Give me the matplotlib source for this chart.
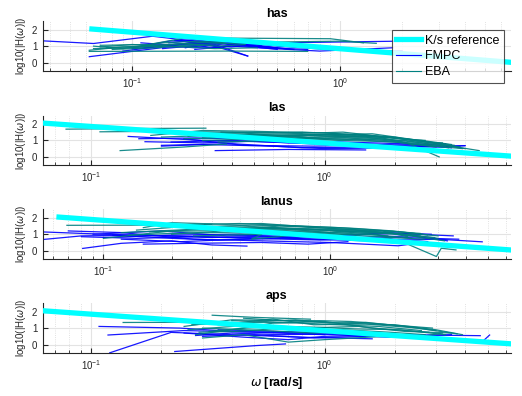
import matplotlib
matplotlib.use("Agg")
import matplotlib.pyplot as plt
from matplotlib.ticker import LogLocator, NullFormatter

plt.rcParams['font.family'] = ['Liberation Sans', 'DejaVu Sans']
plt.rcParams['mathtext.default'] = 'regular'

# reference K/s slope, same for every run
ref_w = [0.062, 7.0]
ref_h = [2.05, 0.0]

# each entry is one experiment: (omega, log10|H|) points
has_fmpc = [
    [(0.037, 1.32), (0.065, 1.16), (0.125, 1.6), (0.2, 1.3), (0.5, 1.2), (1.0, 1.25), (1.9, 1.3)],
    [(0.062, 0.36), (0.146, 0.94), (0.25, 1.1), (0.36, 0.4)],
    [(0.1, 0.9), (0.15, 1.3), (0.2, 1.4), (0.3, 1.1), (0.5, 0.8)],
    [(0.09, 0.7), (0.14, 1.0), (0.22, 1.2), (0.36, 0.4)],
    [(0.12, 1.1), (0.2, 0.9), (0.3, 1.2), (0.45, 0.9), (0.7, 0.8)],
    [(0.15, 1.2), (0.25, 1.5), (0.35, 1.3), (0.5, 1.0), (1.0, 0.75), (2.0, 0.7)],
    [(0.1, 0.85), (0.18, 1.1), (0.28, 1.35), (0.4, 1.0), (0.6, 0.8)],
    [(0.2, 0.8), (0.3, 1.0), (0.4, 0.9), (0.8, 0.7), (1.8, 0.9)],
    [(0.13, 1.0), (0.2, 1.2), (0.26, 0.95), (0.35, 1.15), (0.5, 0.9)],
    [(0.11, 1.2), (0.16, 1.05), (0.21, 1.3), (0.27, 1.15), (0.33, 1.25), (0.42, 1.05)],
    [(0.14, 0.85), (0.19, 1.0), (0.24, 0.9), (0.31, 1.05), (0.45, 0.95), (0.55, 0.85)],
    [(0.16, 1.35), (0.22, 1.15), (0.29, 1.2), (0.38, 1.1), (0.48, 1.15)],
    [(0.12, 0.95), (0.17, 1.15), (0.23, 1.05), (0.3, 0.95), (0.4, 1.1), (0.6, 1.0)],
    [(0.18, 0.9), (0.25, 1.25), (0.32, 1.0), (0.41, 1.2), (0.52, 1.05)],
]
has_eba = [
    [(0.062, 0.68), (0.3, 0.7), (0.7, 0.68)],
    [(0.065, 0.85), (0.1, 0.9), (0.2, 1.2), (0.3, 1.3)],
    [(0.07, 1.05), (0.12, 1.1), (0.18, 1.5), (0.9, 1.45), (1.3, 1.2)],
    [(0.062, 0.75), (0.09, 0.95), (0.15, 1.0), (0.25, 0.85), (0.4, 0.9)],
    [(0.08, 0.8), (0.13, 0.9), (0.2, 1.1), (0.5, 1.25), (1.0, 1.3), (1.5, 1.17)],
    [(0.07, 0.95), (0.1, 1.1), (0.16, 0.95), (0.22, 1.05)],
    [(0.075, 0.9), (0.11, 1.0), (0.17, 1.15), (0.26, 1.0), (0.35, 1.1)],
    [(0.065, 1.0), (0.09, 0.85), (0.14, 1.2), (0.21, 1.3), (0.28, 1.2)],
]

las_fmpc = [
    [(0.144, 1.24), (0.3, 1.0), (0.6, 0.9), (1.2, 0.7), (2.0, 0.6), (4.0, 0.68)],
    [(0.17, 0.92), (0.3, 0.85), (0.5, 0.95), (1.0, 0.8), (2.5, 0.7), (3.5, 0.55)],
    [(0.34, 0.38), (0.7, 0.45), (1.5, 0.42)],
    [(0.2, 0.7), (0.4, 0.8), (0.8, 0.55), (1.5, 0.6), (3.0, 0.6), (4.0, 0.68)],
    [(0.25, 1.1), (0.45, 0.7), (0.9, 0.65), (1.3, 0.7)],
    [(0.2, 0.65), (0.3, 0.75), (0.6, 0.65), (1.0, 0.5), (2.2, 0.55)],
    [(0.16, 1.1), (0.28, 1.15), (0.5, 1.05), (0.9, 0.95), (1.6, 0.85), (2.8, 0.75), (3.8, 0.6)],
    [(0.22, 0.9), (0.4, 1.0), (0.7, 0.85), (1.1, 0.9), (2.0, 0.7), (3.3, 0.8)],
]
las_eba = [
    [(0.078, 1.68), (0.15, 1.72), (0.31, 1.74)],
    [(0.109, 1.52), (0.2, 1.55), (0.4, 1.5), (0.8, 1.45)],
    [(0.133, 0.38), (0.25, 0.6), (0.38, 0.78)],
    [(0.18, 1.3), (0.3, 1.6), (0.5, 1.55), (1.0, 1.45), (2.0, 1.2), (3.0, 0.8), (4.6, 0.38)],
    [(0.2, 1.2), (0.4, 1.35), (0.7, 1.4), (1.2, 1.5), (2.5, 1.0), (3.8, 0.6)],
    [(0.25, 1.1), (0.5, 1.2), (0.9, 1.3), (1.5, 1.2), (2.2, 0.9), (3.1, 0.0)],
    [(0.3, 1.0), (0.6, 1.1), (1.0, 1.2), (1.8, 1.1), (3.2, 0.7), (4.0, 0.5)],
    [(0.35, 0.9), (0.7, 1.0), (1.3, 1.05), (2.0, 0.9), (3.0, 0.6)],
    [(0.4, 1.25), (0.8, 1.35), (1.4, 1.35), (2.6, 1.0), (3.5, 0.75)],
    [(0.22, 1.45), (0.45, 1.45), (0.6, 1.3), (1.1, 1.35), (1.6, 1.4), (2.4, 1.05)],
    [(0.28, 1.35), (0.45, 1.3), (0.65, 1.25), (0.95, 1.35), (1.3, 1.3), (2.0, 1.15), (2.8, 0.9), (3.6, 0.7)],
    [(0.32, 1.2), (0.5, 1.1), (0.75, 1.2), (1.05, 1.1), (1.5, 1.05), (2.2, 1.0), (3.3, 0.65)],
    [(0.26, 1.25), (0.38, 1.4), (0.55, 1.35), (0.85, 1.2), (1.2, 1.25), (1.7, 1.2), (2.3, 0.8), (2.9, 0.7)],
    [(0.45, 1.05), (0.6, 1.0), (0.8, 1.15), (1.15, 1.0), (1.6, 0.95), (2.4, 0.85), (3.4, 0.55)],
    [(0.36, 1.5), (0.55, 1.45), (0.8, 1.5), (1.1, 1.42), (1.45, 1.3), (2.1, 1.1), (2.7, 1.0)],
    [(0.5, 1.3), (0.7, 1.25), (1.0, 1.35), (1.4, 1.2), (1.9, 1.2), (2.6, 0.9), (3.2, 0.85)],
    [(0.3, 1.15), (0.42, 1.2), (0.6, 1.15), (0.9, 1.1), (1.25, 1.15), (1.8, 1.0), (2.5, 0.75), (3.9, 0.5)],
]

lanus_fmpc = [
    [(0.054, 1.14), (0.1, 1.0), (0.2, 0.9), (0.4, 0.8), (1.0, 0.9), (2.0, 1.05), (3.5, 0.9)],
    [(0.054, 0.68), (0.08, 0.9), (0.15, 0.95), (0.3, 0.8), (0.6, 0.9)],
    [(0.081, 0.14), (0.12, 0.45), (0.2, 0.6), (0.3, 0.35), (0.43, 0.28)],
    [(0.07, 1.2), (0.12, 1.1), (0.25, 0.7), (0.5, 0.6), (1.0, 0.5), (2.0, 0.3), (2.6, 0.5)],
    [(0.1, 0.8), (0.2, 0.95), (0.4, 1.0), (0.8, 0.7), (1.5, 0.6), (3.0, 0.7), (4.7, 0.54)],
    [(0.15, 0.4), (0.25, 0.45), (0.5, 0.5), (0.8, 0.4), (1.2, 0.55)],
    [(0.09, 1.0), (0.18, 1.2), (0.35, 0.9), (0.7, 1.0), (1.3, 0.8), (2.3, 0.9), (3.3, 0.6)],
    [(0.12, 0.7), (0.22, 0.55), (0.4, 0.7), (0.9, 0.85), (1.8, 1.1), (2.8, 1.0)],
    [(0.08, 0.85), (0.14, 0.75), (0.26, 0.85), (0.45, 0.75), (0.9, 0.65), (1.6, 0.75), (2.7, 0.55)],
    [(0.11, 0.95), (0.2, 0.75), (0.32, 0.65), (0.6, 0.75), (1.1, 0.7), (2.1, 0.8), (3.7, 0.7)],
]
lanus_eba = [
    [(0.069, 1.54), (0.15, 1.55), (0.3, 1.6)],
    [(0.1, 0.75), (0.2, 1.2), (0.4, 1.4), (0.8, 1.3), (1.5, 1.1), (2.5, 0.9)],
    [(0.15, 1.4), (0.2, 1.7), (0.35, 1.6), (0.5, 1.65), (1.0, 1.35), (2.0, 1.15), (3.0, 0.9)],
    [(0.12, 1.1), (0.25, 1.3), (0.5, 1.2), (1.0, 1.2), (1.6, 1.0), (2.2, 0.4), (2.95, -0.35), (3.1, 0.15), (3.6, 0.05)],
    [(0.2, 1.0), (0.3, 1.15), (0.6, 1.5), (1.2, 1.3), (2.0, 1.0), (3.2, 0.6)],
    [(0.18, 1.45), (0.4, 1.5), (0.7, 1.35), (1.3, 1.25), (2.4, 0.95)],
    [(0.25, 0.9), (0.5, 1.0), (0.45, 0.7), (0.9, 1.1), (1.4, 0.9), (2.6, 0.7)],
    [(0.3, 1.25), (0.6, 1.35), (1.0, 1.1), (1.7, 1.2), (2.2, 0.85)],
    [(0.14, 1.25), (0.22, 1.45), (0.34, 1.35), (0.55, 1.4), (0.85, 1.3), (1.3, 1.15), (1.9, 1.05), (2.9, 0.8)],
    [(0.16, 1.15), (0.26, 1.2), (0.42, 1.25), (0.65, 1.2), (1.0, 1.0), (1.5, 1.0), (2.3, 0.75)],
    [(0.2, 1.55), (0.3, 1.45), (0.45, 1.55), (0.7, 1.5), (1.1, 1.4), (1.6, 1.25), (2.5, 1.05)],
    [(0.24, 1.35), (0.38, 1.3), (0.6, 1.3), (0.95, 1.25), (1.4, 1.2), (2.1, 1.0), (3.0, 0.75)],
    [(0.13, 0.95), (0.2, 1.05), (0.32, 1.1), (0.5, 1.05), (0.8, 1.15), (1.2, 1.05), (1.8, 0.9)],
    [(0.28, 1.6), (0.4, 1.65), (0.6, 1.55), (0.9, 1.45), (1.3, 1.35), (1.9, 1.2), (2.7, 0.95)],
]

aps_fmpc = [
    [(0.108, 1.1), (0.24, 1.0), (0.4, 0.8), (0.8, 0.7), (1.5, 0.5)],
    [(0.118, 0.58), (0.25, 0.85), (0.5, 0.75), (1.0, 0.6)],
    [(0.12, -0.5), (0.22, 0.74), (0.4, 0.6), (0.8, 0.45), (1.6, 0.35)],
    [(0.228, -0.42), (0.51, -0.06), (0.68, 0.04)],
    [(0.3, 0.5), (0.5, 0.6), (0.9, 0.4), (1.5, 0.5), (3.0, 0.4), (4.8, 0.24), (5.1, 0.58)],
    [(0.25, 0.7), (0.45, 0.45), (0.7, 0.3), (1.0, 0.5), (2.0, 0.6), (4.65, 0.54)],
    [(0.35, 0.9), (0.6, 0.8), (1.2, 0.7), (2.5, 0.55), (3.5, 0.6)],
    [(0.28, 0.55), (0.4, 0.7), (0.65, 0.6), (1.1, 0.65), (1.9, 0.45), (2.9, 0.5)],
]
aps_eba = [
    [(0.137, 1.34), (0.25, 1.35), (0.45, 1.3)],
    [(0.33, 1.78), (0.5, 1.65), (0.87, 1.54)],
    [(0.25, 1.1), (0.4, 1.5), (0.7, 1.45), (1.2, 1.3), (2.0, 1.2), (3.0, 0.9), (3.9, 0.6)],
    [(0.3, 0.4), (0.45, 0.6), (0.7, 0.15), (1.0, 0.3), (1.8, 0.5), (2.5, 0.45), (3.2, 0.7)],
    [(0.26, 0.9), (0.5, 1.2), (0.8, 1.0), (1.4, 1.1), (2.2, 0.8), (3.5, 0.7)],
    [(0.28, 0.6), (0.4, 0.9), (0.6, 1.3), (1.0, 1.4), (1.6, 1.0), (2.8, 0.75)],
    [(0.35, 1.2), (0.6, 1.55), (0.9, 1.2), (1.5, 1.25), (2.5, 1.0), (3.7, 0.65)],
    [(0.3, 1.0), (0.55, 0.85), (0.9, 0.7), (1.3, 0.8), (2.0, 0.6), (2.8, 0.4)],
    [(0.27, 1.2), (0.38, 1.3), (0.55, 1.35), (0.8, 1.3), (1.15, 1.2), (1.7, 1.1), (2.6, 0.85)],
    [(0.32, 0.8), (0.46, 1.0), (0.65, 1.1), (0.95, 1.05), (1.35, 0.95), (2.1, 0.9), (3.3, 0.6)],
    [(0.4, 1.45), (0.55, 1.4), (0.75, 1.5), (1.05, 1.3), (1.5, 1.35), (2.2, 1.1), (3.0, 0.85)],
    [(0.29, 0.75), (0.42, 0.8), (0.6, 0.95), (0.85, 0.85), (1.2, 0.9), (1.9, 0.75), (2.7, 0.6)],
    [(0.45, 1.6), (0.65, 1.45), (0.95, 1.45), (1.3, 1.4), (1.9, 1.2), (2.9, 1.0)],
]

titles = ['has', 'las', 'lanus', 'aps']
fmpc_runs = [has_fmpc, las_fmpc, lanus_fmpc, aps_fmpc]
eba_runs = [has_eba, las_eba, lanus_eba, aps_eba]
xlims = [(0.037, 6.7), (0.062, 6.3), (0.054, 6.3), (0.062, 6.3)]
bottoms = [0.821, 0.583, 0.346, 0.109]

fmpc_col = '#0000ff'
eba_col = '#008080'
ref_col = '#00ffff'
txt_col = '#262626'

fig = plt.figure(figsize=(5.22, 3.96), dpi=100)

for i in range(4):
    ax = fig.add_axes([0.082, bottoms[i], 0.897, 0.125])
    for run in fmpc_runs[i]:
        ax.plot([p[0] for p in run], [p[1] for p in run], color=fmpc_col, lw=0.9, alpha=0.9)
    for run in eba_runs[i]:
        ax.plot([p[0] for p in run], [p[1] for p in run], color=eba_col, lw=0.9, alpha=0.9)
    ax.plot(ref_w, ref_h, color=ref_col, lw=3.8, solid_capstyle='butt', zorder=5)

    ax.set_xscale('log')
    ax.set_xlim(*xlims[i])
    ax.set_ylim(-0.5, 2.5)
    ax.set_yticks([0, 1, 2])
    ax.xaxis.set_major_locator(LogLocator(base=10, numticks=10))
    ax.xaxis.set_minor_locator(LogLocator(base=10, subs=range(2, 10), numticks=20))
    ax.xaxis.set_minor_formatter(NullFormatter())
    ax.grid(True, which='major', color='#e3e3e3', lw=0.8)
    ax.grid(True, which='minor', axis='x', color='#d8d8d8', lw=0.6, ls=':')
    ax.set_axisbelow(True)
    for s in ['top', 'right']:
        ax.spines[s].set_visible(False)
    for s in ['left', 'bottom']:
        ax.spines[s].set_color(txt_col)
        ax.spines[s].set_linewidth(0.8)
    ax.tick_params(which='both', direction='in', colors=txt_col, labelsize=7, pad=4)
    ax.tick_params(which='major', length=3.5)
    ax.tick_params(which='minor', length=2)
    ax.set_title(titles[i], fontsize=9, fontweight='bold', pad=3)
    ax.set_ylabel(r'log10(|H($\it{\omega}$)|)', fontsize=7, color=txt_col, labelpad=3)

    if i == 0:
        ax.plot([], [], color=ref_col, lw=3.8, label='K/s reference')
        ax.plot([], [], color=fmpc_col, lw=0.8, label='FMPC')
        ax.plot([], [], color=eba_col, lw=0.8, label='EBA')
        h, l = ax.get_legend_handles_labels()
        leg = ax.legend(h, l, loc='upper right', bbox_to_anchor=(0.985, 0.82),
                        borderaxespad=0, fontsize=9, fancybox=False,
                        handlelength=2.0, handletextpad=0.35, labelspacing=0.3,
                        borderpad=0.35)
        leg.get_frame().set_edgecolor(txt_col)
        leg.get_frame().set_linewidth(0.8)
        leg.set_zorder(10)
    if i == 3:
        ax.set_xlabel(r'$\it{\omega}$ [rad/s]', fontsize=9, fontweight='bold', labelpad=2)

fig.savefig('out.png', dpi=100)
